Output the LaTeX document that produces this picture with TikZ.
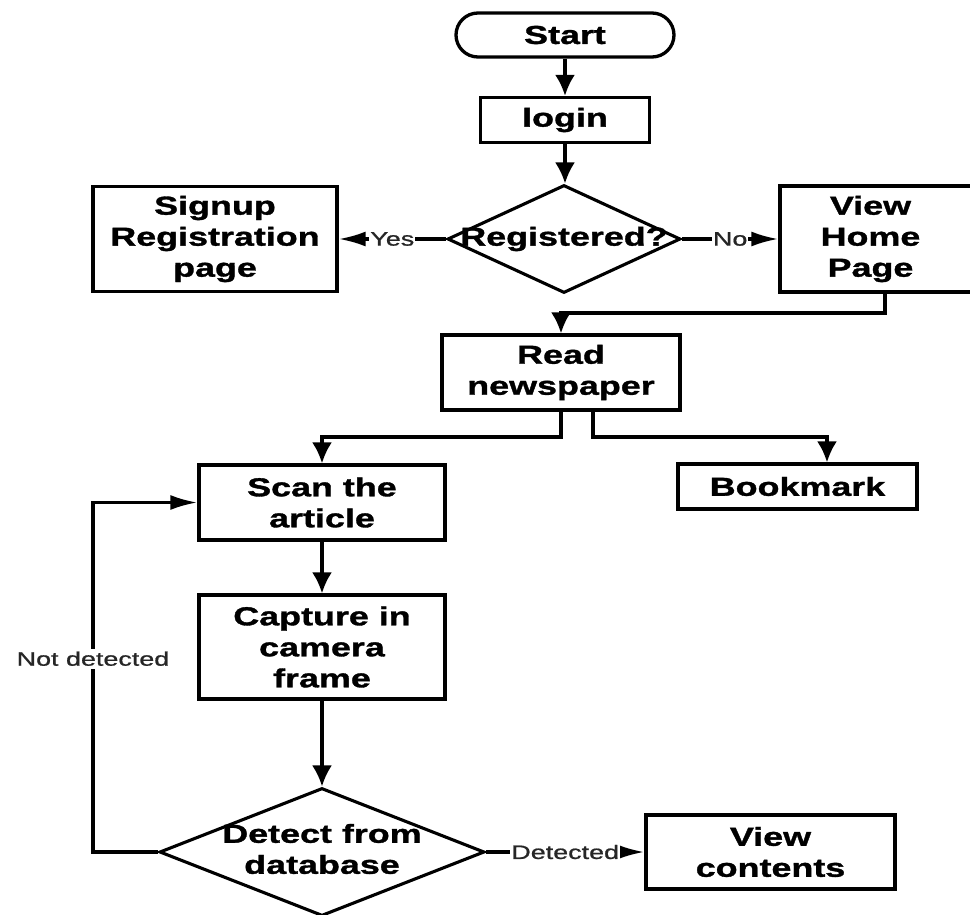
\documentclass[tikz,border=0pt]{standalone}
\usepackage{fontspec}
\setmainfont{Liberation Sans}[FakeStretch=1.38, BoldFeatures={FakeBold=1.3}]
\newfontfamily\lblfont{Liberation Sans}[FakeStretch=1.38, FakeBold=0.9]
\usetikzlibrary{shapes.geometric,arrows.meta}
\begin{document}
\begin{tikzpicture}[x=1pt,y=-1pt,
  box/.style={draw, line width=3.3pt, fill=white, align=center, font=\bfseries\fontsize{26}{31}\selectfont, inner sep=0pt},
  dia/.style={diamond, draw, line width=3.1pt, fill=white, inner sep=0pt},
  dtext/.style={font=\bfseries\fontsize{26}{31}\selectfont, align=center, inner sep=0pt},
  lbl/.style={fill=white, inner sep=1pt, text=black!85, font=\lblfont\fontsize{19.5}{22}\selectfont},
  conn/.style={line width=3.1pt},
  varr/.style={conn, -{Latex[length=21pt,width=20pt]}},
  harr/.style={conn, -{Latex[length=27pt,width=15pt]}}
]
\fill[white] (0,0) rectangle (970,915);
\useasboundingbox (0,0) rectangle (970,915);

\node[box, rounded corners=22pt, minimum width=218pt, minimum height=44pt] (start) at (565,35) {Start};
\node[box, minimum width=169pt, minimum height=45pt] (login) at (565,120) {login};
\node[dia, minimum width=233pt, minimum height=108pt, label={[dtext]center:Registered?}] (reg) at (564,239) {};
\node[box, minimum width=244pt, minimum height=105pt] (signup) at (215,239) {Signup\\Registration\\page};
\node[box, minimum width=195pt, minimum height=106pt, label={[dtext,xshift=-7pt]center:View\\Home\\Page}] (home) at (877.5,239) {};
\node[box, minimum width=238pt, minimum height=75pt] (read) at (561,372.5) {Read\\newspaper};
\node[box, minimum width=246pt, minimum height=75pt] (scan) at (322,502.5) {Scan the\\article};
\node[box, minimum width=239pt, minimum height=45pt] (bm) at (797.5,486.5) {Bookmark};
\node[box, minimum width=246pt, minimum height=104pt] (cap) at (322,647) {Capture in\\camera\\frame};
\node[dia, minimum width=325pt, minimum height=128pt, label={[dtext,yshift=3pt]center:Detect from\\database}] (det) at (322,852) {};
\node[box, minimum width=249pt, minimum height=74pt] (vc) at (770.5,852) {View\\contents};

\coordinate (hj) at (885,313);
\coordinate (rl) at (0,437);
\coordinate (rr) at (593,437);
\coordinate (rb) at (827,437);
\coordinate (fb) at (93,0);

\draw[varr] (start.south) -- (start.south |- login.north);
\draw[varr] (login.south) -- (login.south |- reg.north);
\draw[harr] (reg.west) -- node[lbl]{Yes} (signup.east);
\draw[harr] (reg.east) -- node[lbl]{No} (home.west);
\draw[varr] (home.south -| hj) -- (hj) -| (read.north);
\draw[varr] (read.south) -- (read.south |- rl) -| (scan.north);
\draw[varr] (read.south -| rr) -- (rr) -- (rb) -- (rb |- bm.north);
\draw[varr] (scan) -- (cap);
\draw[varr] (cap) -- (det);
\draw[harr] (det.east) -- node[lbl]{Detected} (vc.west);
\draw[harr] (det.west) -- (det.west -| fb) -- node[lbl, pos=0.553, inner ysep=3pt]{Not detected} (fb |- scan.west) -- (scan.west);
\end{tikzpicture}
\end{document}
